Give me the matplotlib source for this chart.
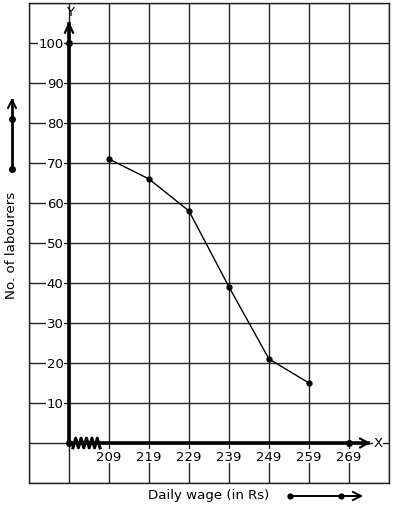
import numpy as np
import matplotlib.pyplot as plt

# data
wages = [209, 219, 229, 239, 249, 259]
labourers = [71, 66, 58, 39, 21, 15]
x_ticks = [209, 219, 229, 239, 249, 259, 269]
y_ticks = [10, 20, 30, 40, 50, 60, 70, 80, 90, 100]

fig = plt.figure(figsize=(3.94, 5.10), dpi=100)
ax = fig.add_axes([29/394, 26/510, 360/394, 480/510])
ax.set_xlim(189, 279)
ax.set_ylim(-10, 110)
ax.set_xticks(np.arange(189, 280, 10))
ax.set_yticks(np.arange(-10, 111, 10))
ax.tick_params(length=0, labelbottom=False, labelleft=False)
ax.grid(True, color="#222222", lw=1.0)
for s in ax.spines.values():
    s.set_color("#222222")
    s.set_linewidth(1.0)

# axes (origin at 199 on the x scale, broken)
ax.plot([199, 199], [0, 104.7], color="k", lw=2.6, zorder=4)
ax.plot([199, 273.7], [0, 0], color="k", lw=2.6, zorder=4)
ax.plot([198, 199, 200], [102.6, 104.8, 102.6], color="k", lw=1.6, zorder=4)
ax.plot([271.8, 273.8, 271.8], [1.1, 0, -1.1], color="k", lw=1.6, zorder=4)
zx = np.linspace(200, 206.75, 11)
zy = np.where(np.arange(11) % 2 == 0, -1.2, 1.2)
ax.plot(zx, zy, color="k", lw=2.2, zorder=5)
ax.plot([199, 199, 269], [0, 100, 0], "o", color="k", ms=4, zorder=6)

ax.text(199.3, 107.8, "Y", ha="center", va="center", fontsize=9.5)
ax.text(276.3, 0.2, "X", ha="center", va="center", fontsize=9.5,
        bbox=dict(facecolor="white", edgecolor="none", pad=0.3))

for v in y_ticks:
    ax.text(197.6, v, str(v), ha="right", va="center", fontsize=9.5,
            bbox=dict(facecolor="white", edgecolor="none", pad=0.2), zorder=3)
for v in x_ticks:
    ax.text(v, -3.3, str(v), ha="center", va="center", fontsize=9.5,
            bbox=dict(facecolor="white", edgecolor="none", pad=0.2), zorder=3)

ax.plot(wages, labourers, "o-", color="k", lw=1, ms=3.5, zorder=6)

# outside labels and arrows
fig.text(12/394, 265/510, "No. of labourers", rotation=90, ha="center", va="center", fontsize=9.6)
fig.text(209/394, 14/510, "Daily wage (in Rs)", ha="center", va="center", fontsize=9.6)

fig.add_artist(plt.Line2D([12/394, 12/394], [340/510, 409/510], color="k", lw=2))
fig.add_artist(plt.Line2D([8/394, 12/394, 16/394], [401/510, 409/510, 401/510], color="k", lw=1.4))
fig.add_artist(plt.Line2D([12/394, 12/394], [340/510, 390/510], marker="o", ls="none", color="k", ms=4))
fig.add_artist(plt.Line2D([290/394, 361/394], [13/510, 13/510], color="k", lw=1.4))
fig.add_artist(plt.Line2D([353/394, 361/394, 353/394], [17/510, 13/510, 9/510], color="k", lw=1.4))
fig.add_artist(plt.Line2D([290/394, 341/394], [13/510, 13/510], marker="o", ls="none", color="k", ms=3.5))

fig.savefig("out.png", dpi=100)
